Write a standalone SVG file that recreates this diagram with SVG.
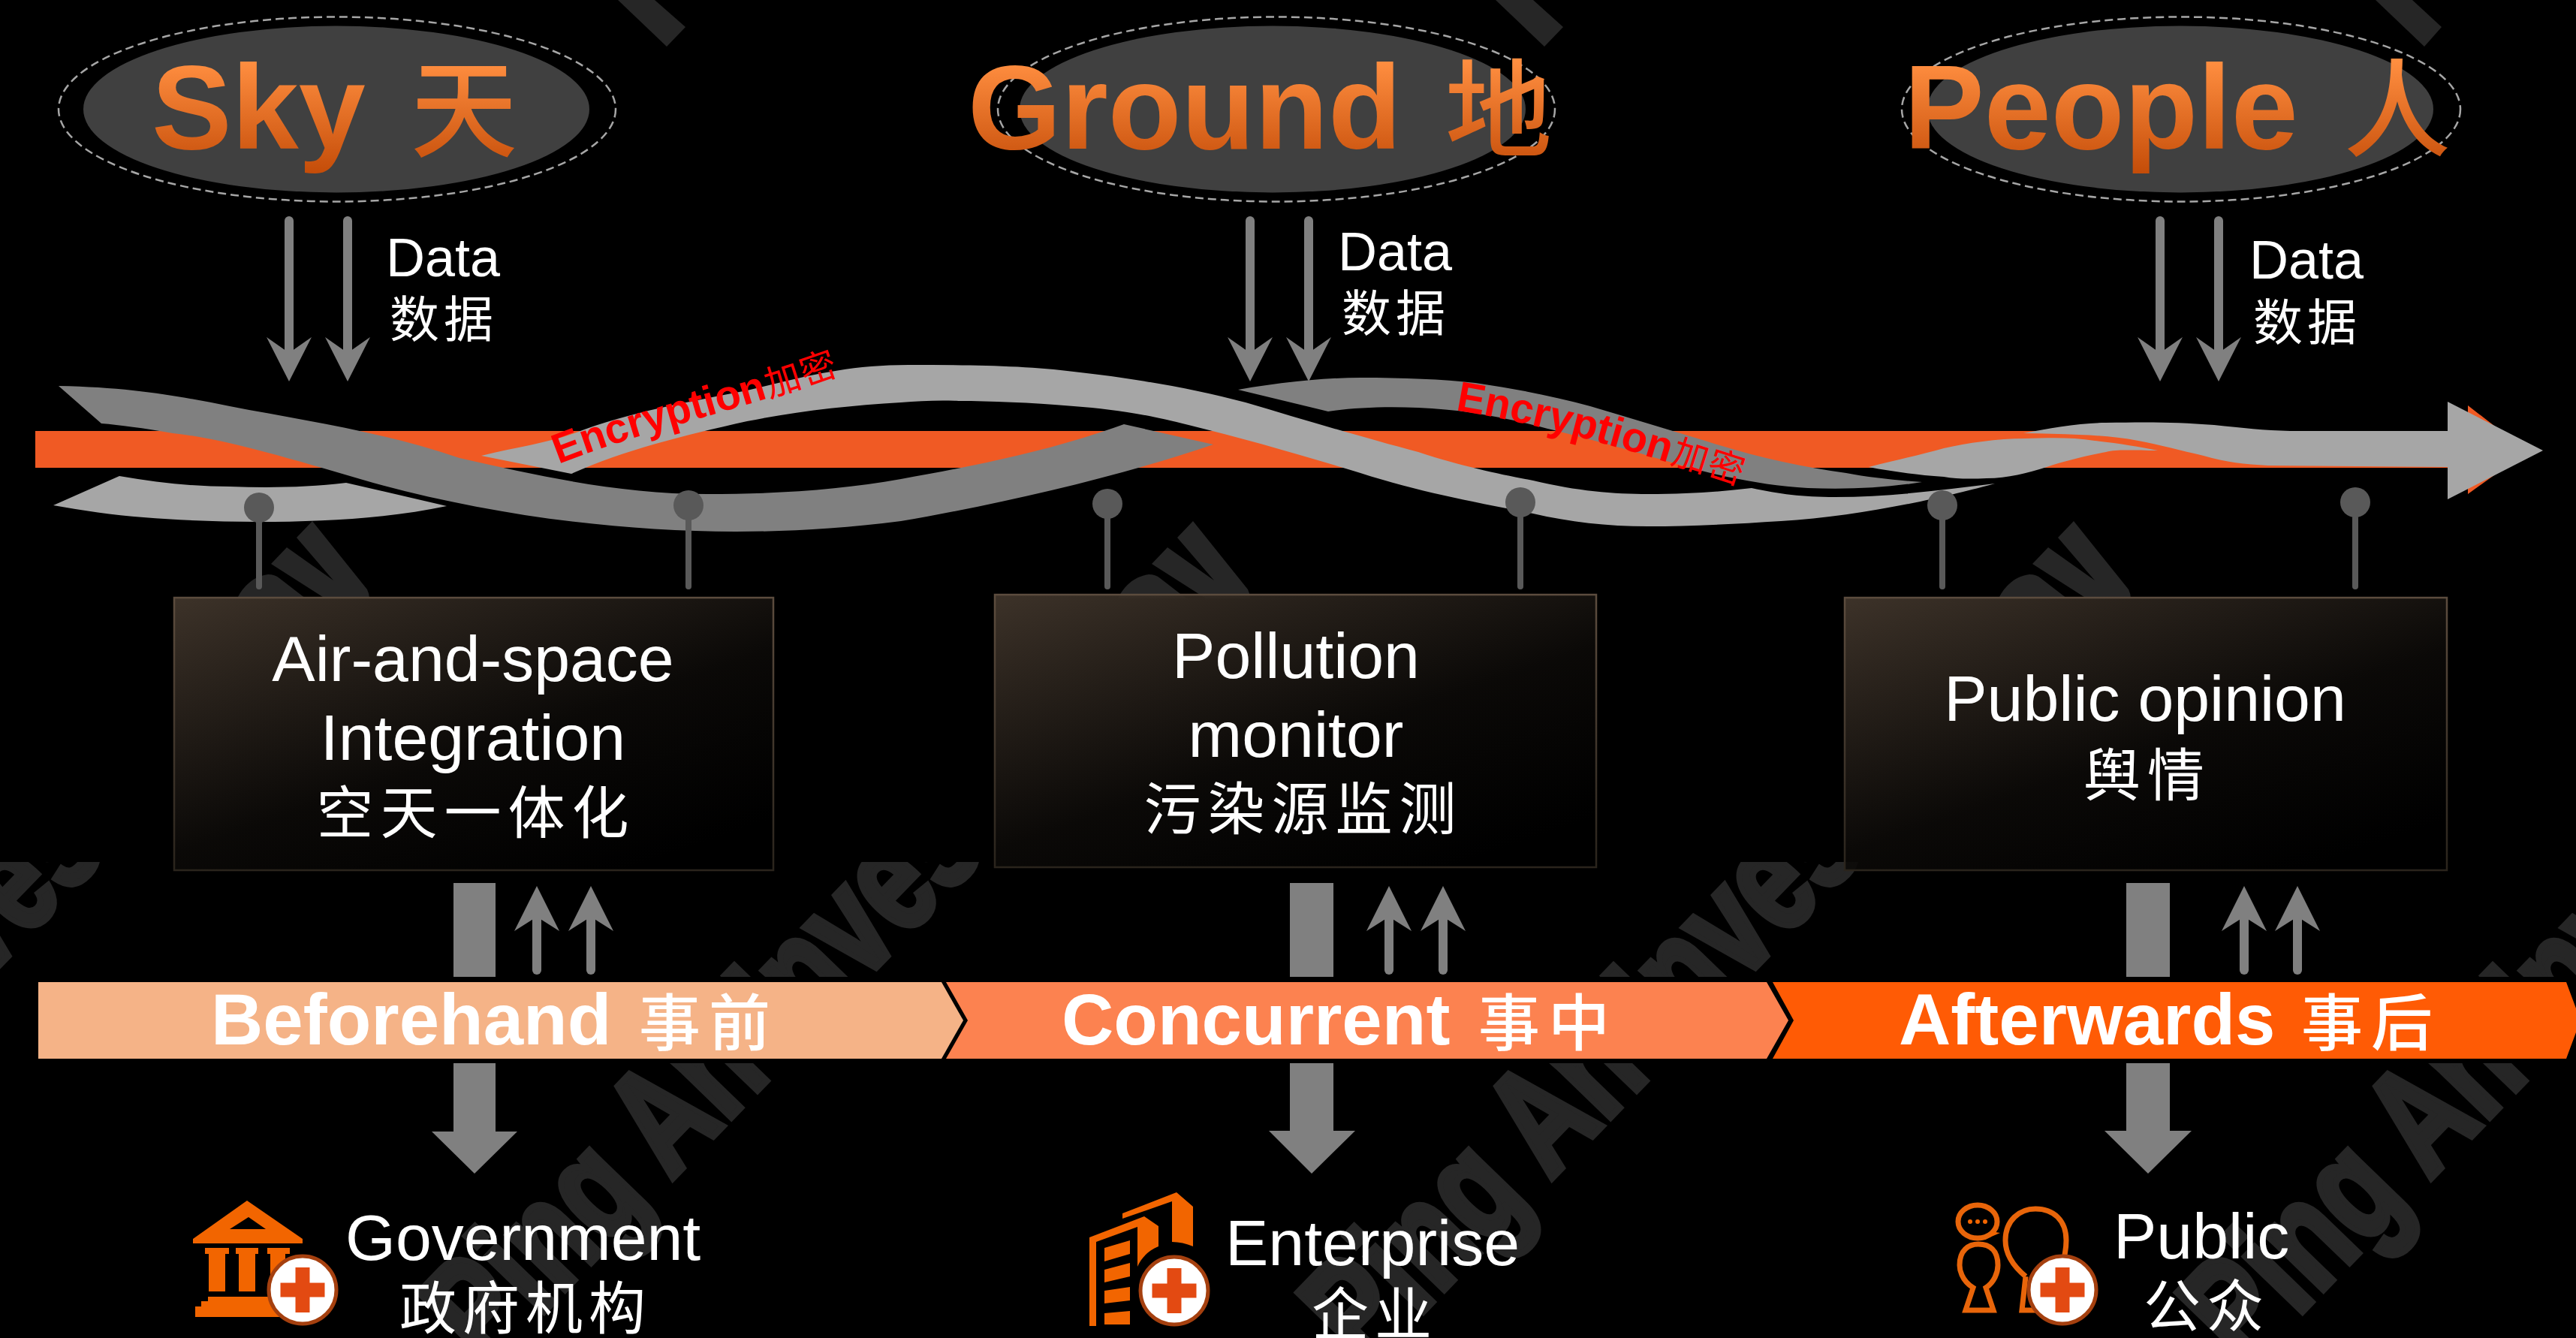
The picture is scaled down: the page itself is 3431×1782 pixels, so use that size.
<svg xmlns="http://www.w3.org/2000/svg" width="3431" height="1782" viewBox="0 0 3431 1782">
<style>
text{font-family:"Liberation Sans","Noto Sans CJK SC",sans-serif}
.title{font-size:160px;font-weight:700;fill:url(#tg)}
.titlecjk{font-family:"Noto Sans CJK SC",sans-serif;font-size:142px;font-weight:500;fill:url(#tg)}
.data{font-size:72px;fill:#fff}
.datacjk{font-family:"Noto Sans CJK SC",sans-serif;font-size:66px;fill:#fff;letter-spacing:6px}
.box{font-size:86px;fill:#fff;text-anchor:middle}
.boxcjk{font-family:"Noto Sans CJK SC",sans-serif;font-size:76px;fill:#fff;text-anchor:middle;letter-spacing:9px}
.band{font-size:96px;font-weight:700;fill:#fff}
.bandcjk{font-family:"Noto Sans CJK SC",sans-serif;font-size:82px;font-weight:500;fill:#fff;letter-spacing:11px}
.who{font-size:86px;fill:#fff}
.whocjk{font-family:"Noto Sans CJK SC",sans-serif;font-size:76px;fill:#fff;letter-spacing:8px}
.enc{font-size:56px;font-weight:700;fill:#f00}
.enccjk{font-family:"Noto Sans CJK SC",sans-serif;font-size:48px;font-weight:400;fill:#f00;letter-spacing:2px}
.wm{font-size:200px;font-weight:700;fill:#262626;stroke:#262626;stroke-width:9}
.ell{fill:#404040}
.dash{fill:none;stroke:#a6a6a6;stroke-width:2.5;stroke-dasharray:11 6}
.ln{stroke:#808080;stroke-width:12;stroke-linecap:round;fill:none}
.hd{fill:#808080}
.pin{stroke:#595959;stroke-width:8;stroke-linecap:round}
.pinh{fill:#595959}
.rd{fill:#808080}
.rl{fill:#a6a6a6}
.bx{fill:url(#bg);stroke:url(#bs);stroke-width:2.5}
.ic{fill:#f26500}
.ics{fill:none;stroke:#e8650a;stroke-width:7}
.bad{fill:#fff;stroke:#a5400f;stroke-width:5}
.crs{fill:#e34a12}
</style>
<defs>
<linearGradient id="tg" gradientUnits="userSpaceOnUse" x1="0" y1="82" x2="0" y2="232"><stop offset="0" stop-color="#ff8e40"/><stop offset="1" stop-color="#c44c08"/></linearGradient>
<linearGradient id="bg" x1="0" y1="0" x2="0.75" y2="1"><stop offset="0" stop-color="#40352b" stop-opacity=".95"/><stop offset=".6" stop-color="#0c0a08" stop-opacity=".9"/><stop offset="1" stop-color="#000" stop-opacity=".85"/></linearGradient>
<linearGradient id="bs" x1="0" y1="0" x2="0" y2="1"><stop offset="0" stop-color="#5c4c3e"/><stop offset="1" stop-color="#2a241c"/></linearGradient>
<clipPath id="wmc"><rect x="0" y="1148" width="3431" height="153"/><rect x="0" y="1416" width="3431" height="366"/></clipPath>
<g id="cross"><circle class="bad" cx="0" cy="0" r="45"/><path class="crs" d="M-9.500,-30H9.500V-9.500H29.500V9.500H9.500V30H-9.500V9.500H-29.500V-9.500H-9.500Z"/></g>
<g id="dn"><line class="ln" x1="0" y1="294" x2="0" y2="480"/><path class="hd" d="M-30,449L0,508L30,449L0,470Z"/></g>
<g id="up"><line class="ln" x1="0" y1="1292" x2="0" y2="1215"/><path class="hd" d="M-30,1240L0,1180L30,1240L0,1221Z"/></g>
<g id="frag" fill="#262626"><path d="M2762,694L2835,785Q2838,791 2838,797H2779L2707,751L2728,729L2790,773L2741,716Z"/><path d="M2662,797C2668,785 2680,768 2703,765Q2712,765 2718,770L2753,797Z"/></g>
</defs>
<rect width="3431" height="1782" fill="#000"/>

<g id="watermark">
<g clip-path="url(#wmc)">
<text class="wm" transform="translate(-522,1825) rotate(-46) scale(.73,1)">Ping An Inves</text>
<text class="wm" transform="translate(649,1825) rotate(-46) scale(.73,1)">Ping An Inves</text>
<text class="wm" transform="translate(1820,1825) rotate(-46) scale(.73,1)">Ping An Inves</text>
<text class="wm" transform="translate(2991,1825) rotate(-46) scale(.73,1)">Ping An Inves</text>
</g>
<path fill="#262626" d="M823,0H872L913,36L888,62Z"/>
<path fill="#262626" d="M1992,0H2042L2082,36L2057,62Z"/>
<path fill="#262626" d="M3164,0H3213L3252,36L3229,62Z"/>
<use href="#frag" x="-2346"/>
<use href="#frag" x="-1173"/>
<use href="#frag"/>
</g>

<g id="node-sky">
<ellipse class="ell" cx="448" cy="145.500" rx="337" ry="111"/>
<ellipse class="dash" cx="449" cy="145.500" rx="371" ry="123"/>
<text class="title" x="202" y="198">Sky</text>
<text class="titlecjk" x="547" y="198">天</text>
</g>
<g id="node-ground">
<ellipse class="ell" cx="1695" cy="145.500" rx="337" ry="111"/>
<ellipse class="dash" cx="1700" cy="145.500" rx="371" ry="123"/>
<text class="title" x="1289" y="198">Ground</text>
<text class="titlecjk" x="1925" y="198">地</text>
</g>
<g id="node-people">
<ellipse class="ell" cx="2904" cy="145.500" rx="337" ry="111"/>
<ellipse class="dash" cx="2905" cy="145.500" rx="372" ry="123"/>
<text class="title" x="2536" y="198">People</text>
<text class="titlecjk" x="3122" y="198">人</text>
</g>

<g id="timeline">
<path fill="#f05a24" d="M47,574H3260V623H47Z"/>
<path fill="#f05a24" d="M3287,540L3340,581V620L3287,658Z"/>
<path class="rl" d="M159,634C210,643 260,648 306,648C360,650 410,649 461,643L595,674C520,690 430,695 344,695C290,695 240,693 191,689C150,686 110,680 71,673Z"/>
<path class="rl" d="M641,607C690,595 730,590 765,577C840,548 920,535 995,520C1060,505 1120,486 1210,486C1290,486 1370,487 1430,495C1520,505 1590,518 1659,536C1740,560 1820,584 1889,602C1950,622 2000,632 2042,640C2100,654 2150,658 2195,658C2250,658 2290,655 2333,650C2370,658 2400,662 2444,662C2520,662 2590,652 2657,644C2600,660 2480,688 2372,694C2310,698 2250,701 2195,701C2140,701 2090,695 2042,684C1960,668 1890,655 1812,630C1730,605 1660,585 1583,566C1520,550 1480,545 1430,541C1370,536 1320,534 1277,534C1250,533 1225,534 1200,536C1130,540 1060,548 995,561C910,580 830,600 761,631Z"/>
<path class="rd" d="M78,514C180,516 240,528 306,541C410,561 510,575 612,610C720,635 830,658 941,658C1040,658 1120,652 1200,638C1310,618 1400,600 1497,565L1616,592C1500,632 1340,670 1200,694C1120,704 1050,708 980,708C820,708 650,685 497,643C400,615 300,584 230,577C190,570 160,566 135,564Z"/>
<path class="rd" d="M1649,519C1700,510 1760,503 1812,503C1870,503 1920,505 1965,510C2020,518 2070,528 2118,541C2170,556 2220,572 2271,587C2335,608 2400,622 2459,630C2490,636 2530,640 2560,642C2510,650 2460,652 2408,650C2370,648 2335,642 2300,635C2260,626 2230,617 2195,607C2150,593 2090,578 2042,566C1990,553 1940,545 1889,543C1845,541 1800,543 1769,548Z"/>
<path class="rl" d="M2489,622C2530,612 2560,605 2589,597C2620,590 2660,584 2697,584C2730,583 2760,582 2790,587C2820,590 2850,595 2874,600C2840,600 2820,598 2805,602C2775,608 2750,614 2726,622C2700,630 2675,637 2646,637C2625,638 2605,638 2589,635C2550,632 2520,628 2489,622Z"/>
<path class="rl" d="M2695,577C2730,570 2770,563 2805,563C2860,562 2900,562 2949,566C2990,570 3020,574 3058,574L3260,574V535L3387,600L3260,665V622L3021,620C2990,618 2965,616 2935,607C2905,600 2875,592 2848,587C2820,582 2795,580 2769,579C2745,578 2720,577 2695,577Z"/>
<path id="enc1" fill="none" d="M744,618C860,572 990,546 1125,496"/>
<path id="enc2" fill="none" d="M1938,546C2080,570 2200,608 2340,654"/>
<text class="enc"><textPath href="#enc1">Encryption<tspan class="enccjk" dx="2">加密</tspan></textPath></text>
<text class="enc"><textPath href="#enc2">Encryption<tspan class="enccjk" dx="2">加密</tspan></textPath></text>
</g>

<g id="connectors">
<use href="#dn" x="385"/><use href="#dn" x="463"/>
<use href="#dn" x="1665"/><use href="#dn" x="1743"/>
<use href="#dn" x="2877"/><use href="#dn" x="2955"/>
<line class="pin" x1="345" y1="690" x2="345" y2="781"/><circle class="pinh" cx="345" cy="676" r="20"/>
<line class="pin" x1="917" y1="690" x2="917" y2="781"/><circle class="pinh" cx="917" cy="673" r="20"/>
<line class="pin" x1="1475" y1="690" x2="1475" y2="781"/><circle class="pinh" cx="1475" cy="671" r="20"/>
<line class="pin" x1="2025" y1="690" x2="2025" y2="781"/><circle class="pinh" cx="2025" cy="669" r="20"/>
<line class="pin" x1="2587" y1="690" x2="2587" y2="781"/><circle class="pinh" cx="2587" cy="673" r="20"/>
<line class="pin" x1="3137" y1="690" x2="3137" y2="781"/><circle class="pinh" cx="3137" cy="669" r="20"/>
<rect class="hd" x="604" y="1176" width="56" height="125"/>
<rect class="hd" x="1718" y="1176" width="58" height="125"/>
<rect class="hd" x="2832" y="1176" width="58" height="125"/>
<use href="#up" x="715"/><use href="#up" x="787"/>
<use href="#up" x="1850"/><use href="#up" x="1922"/>
<use href="#up" x="2989"/><use href="#up" x="3060"/>
<path class="hd" d="M604,1416H660V1507H689L632,1563L575,1507H604Z"/>
<path class="hd" d="M1718,1416H1776V1506H1805L1747,1563L1690,1506H1718Z"/>
<path class="hd" d="M2832,1416H2890V1506H2919L2861,1563L2803,1506H2832Z"/>
</g>

<g id="node-air">
<rect class="bx" x="232" y="796" width="798" height="363"/>
<text class="box" x="630" y="907">Air-and-space</text>
<text class="box" x="630" y="1012">Integration</text>
<text class="boxcjk" x="634" y="1110">空天一体化</text>
</g>
<g id="node-pollution">
<rect class="bx" x="1325" y="792" width="801" height="363"/>
<text class="box" x="1726" y="903">Pollution</text>
<text class="box" x="1726" y="1008">monitor</text>
<text class="boxcjk" x="1736" y="1105">污染源监测</text>
</g>
<g id="node-opinion">
<rect class="bx" x="2457" y="796" width="802" height="363"/>
<text class="box" x="2857" y="960">Public opinion</text>
<text class="boxcjk" x="2860" y="1060">舆情</text>
</g>

<g id="node-data-labels">
<text class="data" x="514" y="368">Data</text><text class="datacjk" x="519" y="449">数据</text>
<text class="data" x="1782" y="360">Data</text><text class="datacjk" x="1787" y="441">数据</text>
<text class="data" x="2996" y="371">Data</text><text class="datacjk" x="3001" y="453">数据</text>
</g>

<g id="node-beforehand">
<path fill="#f5b387" d="M51,1308H1254L1283,1359L1254,1410H51Z"/>
<text class="band" x="281" y="1391">Beforehand</text><text class="bandcjk" x="851" y="1392">事前</text>
</g>
<g id="node-concurrent">
<path fill="#fc8250" d="M1260,1308H2353L2382,1359L2353,1410H1260L1289,1359Z"/>
<text class="band" x="1414" y="1391">Concurrent</text><text class="bandcjk" x="1969" y="1392">事中</text>
</g>
<g id="node-afterwards">
<path fill="#ff5b05" d="M2361,1308H3418L3437,1359L3418,1410H2361L2389,1359Z"/>
<text class="band" x="2529" y="1391">Afterwards</text><text class="bandcjk" x="3065" y="1392">事后</text>
</g>

<g id="node-government">
<path class="ic" d="M329,1599L403,1650V1656H257V1650ZM331,1621L306,1637H354Z" fill-rule="evenodd"/>
<path class="ic" d="M273,1662H305V1670H300V1720H278V1670H273ZM314,1662H344V1670H340V1720H318V1670H314ZM356,1662H386V1670H380V1720H360V1670H356Z"/>
<path class="ic" d="M277,1727H375V1754H260V1740H268V1733H277Z"/>
<use href="#cross" x="403" y="1718"/>
<text class="who" x="460" y="1678">Government</text>
<text class="whocjk" x="532" y="1770">政府机构</text>
</g>
<g id="node-enterprise">
<path class="ic" d="M1495,1616L1567,1588L1589,1607V1660C1580,1656 1570,1654 1561,1654V1600L1495,1623Z"/>
<path class="ic" d="M1451,1648L1524,1620L1543,1633V1660C1530,1665 1520,1675 1515,1687V1634L1460,1654V1766H1451Z"/>
<path class="ic" d="M1471,1662L1505,1652V1670L1471,1680ZM1471,1691L1505,1682V1700L1471,1708ZM1471,1719L1505,1714V1732L1471,1736ZM1471,1749L1505,1746V1764H1471Z"/>
<use href="#cross" x="1564" y="1719"/>
<text class="who" x="1632" y="1685">Enterprise</text>
<text class="whocjk" x="1747" y="1778">企业</text>
</g>
<g id="node-public">
<ellipse class="ics" cx="2634" cy="1627" rx="26" ry="22"/>
<path class="ic" d="M2652,1640L2664,1642L2650,1648Z"/>
<circle class="ic" cx="2624" cy="1627" r="3"/><circle class="ic" cx="2634" cy="1627" r="3"/><circle class="ic" cx="2644" cy="1627" r="3"/>
<path class="ics" d="M2628,1715C2612,1705 2610,1690 2610,1685C2610,1665 2622,1657 2635,1657C2650,1657 2661,1665 2661,1685C2661,1695 2656,1708 2645,1715L2655,1745H2618Z"/>
<path class="ics" d="M2698,1700C2680,1685 2671,1670 2671,1652C2671,1625 2690,1610 2711,1610C2735,1610 2752,1625 2752,1652C2752,1665 2750,1675 2745,1690M2698,1700L2693,1745H2725"/>
<use href="#cross" x="2747" y="1718"/>
<text class="who" x="2815" y="1676">Public</text>
<text class="whocjk" x="2855" y="1767">公众</text>
</g>
</svg>
